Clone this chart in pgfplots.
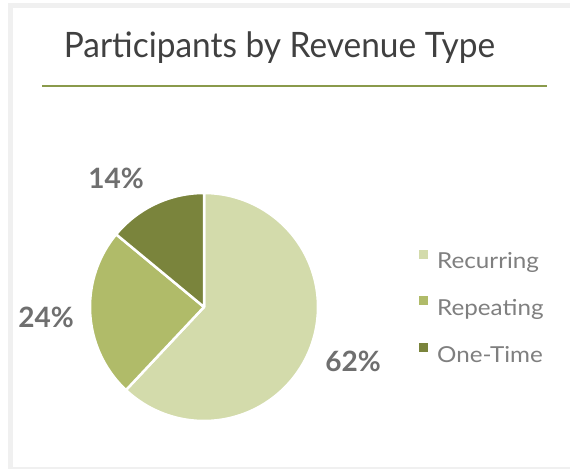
\documentclass[border=0pt]{standalone}
\usepackage{fontspec}
\setmainfont{Lato}
\newfontfamily\titlefont[FakeStretch=0.955]{Lato}
\newfontfamily\legendfont[FakeStretch=1.1]{Lato}
\usepackage{pgfplots}
\usepackage{pgfplotstable}
\pgfplotsset{compat=1.18}
\definecolor{recurring}{HTML}{D3DBAB}
\definecolor{repeating}{HTML}{B0BB69}
\definecolor{onetime}{HTML}{7A843C}
\definecolor{framegray}{HTML}{F0F0F0}
\definecolor{titlegray}{HTML}{404040}
\definecolor{labelgray}{HTML}{6F6F6F}
\definecolor{legendgray}{HTML}{7F7F7F}
\definecolor{rulecol}{HTML}{8A9A4B}

\pgfplotstableread{
label value
Recurring 62
Repeating 24
One-Time 14
}\piedata

\begin{document}
\begin{tikzpicture}
\pgfplotstablegetelem{0}{value}\of\piedata \pgfmathsetmacro\va{\pgfplotsretval}
\pgfplotstablegetelem{1}{value}\of\piedata \pgfmathsetmacro\vb{\pgfplotsretval}
\pgfplotstablegetelem{2}{value}\of\piedata \pgfmathsetmacro\vc{\pgfplotsretval}
\pgfmathsetmacro\aA{90}
\pgfmathsetmacro\aB{90-3.6*\va}
\pgfmathsetmacro\aC{\aB-3.6*\vb}
\pgfmathsetmacro\aD{\aC-3.6*\vc}
\begin{axis}[
  at={(0,0)}, anchor=south west,
  scale only axis, width=570pt, height=469pt,
  xmin=0, xmax=570, ymin=0, ymax=469,
  hide axis, clip=false,
  legend image code/.code={\fill[#1, draw=none] (0pt,3pt) rectangle (9pt,12pt);},
  legend style={at={(axis cs:419,219.5)}, anchor=north west, draw=none, fill=none,
    font=\legendfont\fontsize{22}{26}\selectfont, text=legendgray, row sep=24pt, inner sep=0pt,
    /tikz/every odd column/.append style={column sep=7pt}},
  legend cell align=left,
]
% background and frame
\fill[white] (axis cs:0,0) rectangle (axis cs:570,469);
\fill[framegray] (axis cs:8,0) rectangle (axis cs:570,466);
\fill[white] (axis cs:13,2) rectangle (axis cs:570,461);
% title
\node[anchor=base, font=\titlefont\fontsize{35}{40}\selectfont, text=titlegray] at (axis cs:279.5,411) {Participants by Revenue Type};
\draw[rulecol, line width=2pt] (axis cs:42,383) -- (axis cs:547,383);
% slices
\addplot[fill=recurring, draw=white, line width=2.5pt, line join=round, domain=\aB:\aA, samples=120]
  ({204+114*cos(x)},{162+114*sin(x)}) -- (axis cs:204,162) -- cycle;
\addlegendentry{Recurring}
\addplot[fill=repeating, draw=white, line width=2.5pt, line join=round, domain=\aC:\aB, samples=60]
  ({204+114*cos(x)},{162+114*sin(x)}) -- (axis cs:204,162) -- cycle;
\addlegendentry{Repeating}
\addplot[fill=onetime, draw=white, line width=2.5pt, line join=round, domain=\aD:\aC, samples=40]
  ({204+114*cos(x)},{162+114*sin(x)}) -- (axis cs:204,162) -- cycle;
\addlegendentry{One-Time}
% percentage labels
\node[font=\bfseries\fontsize{28}{28}\selectfont, text=labelgray] at (axis cs:116,291) {14\%};
\node[font=\bfseries\fontsize{28}{28}\selectfont, text=labelgray] at (axis cs:46,152) {24\%};
\node[font=\bfseries\fontsize{28}{28}\selectfont, text=labelgray] at (axis cs:353,108) {62\%};
\end{axis}
\end{tikzpicture}
\end{document}
